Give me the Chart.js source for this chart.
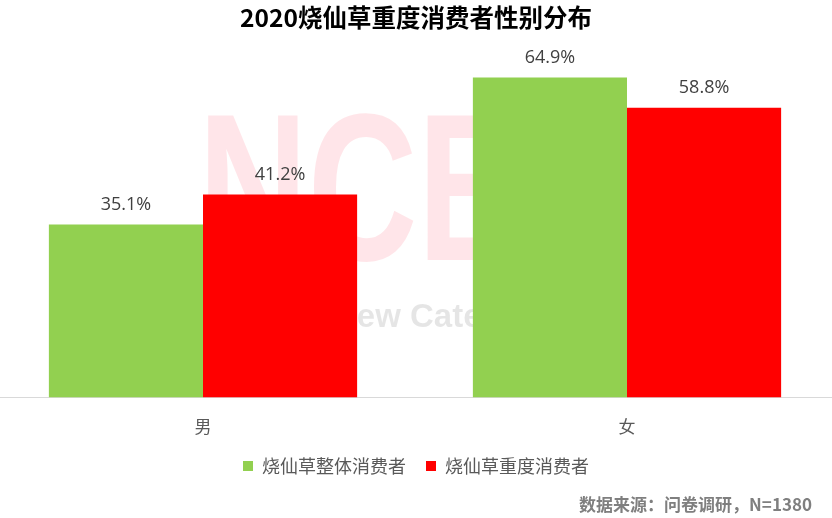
<!DOCTYPE html>
<html>
<head>
<meta charset="utf-8">
<script src="https://cdn.jsdelivr.net/npm/chart.js@4.4.1/dist/chart.umd.min.js"></script>
<style>
html,body{margin:0;padding:0;background:#fff;}
#wrap{width:832px;height:518px;position:relative;}
</style>
</head>
<body>
<div id="wrap"><canvas id="c" width="832" height="518"></canvas></div>
<script>
const categories = ["男", "女"];
const seriesNames = ["烧仙草整体消费者", "烧仙草重度消费者"];
const overall = [35.1, 64.9];
const heavy = [41.2, 58.8];
const titleText = "2020烧仙草重度消费者性别分布";
const sourceText = "数据来源：问卷调研，N=1380";

const CJK = "'Noto Sans CJK SC', 'Microsoft YaHei', sans-serif";

const widenX = {
  id: 'widenX',
  afterLayout(chart) {
    const s = chart.scales.x;
    s.left = -9;
    s.right = 839;
    s.width = 848;
    s.configure();
  }
};

const watermark = {
  id: 'watermark',
  beforeDatasetsDraw(chart) {
    const ctx = chart.ctx;
    ctx.save();
    ctx.fillStyle = 'rgba(255,0,40,0.10)';
    ctx.font = "bold 190px 'Liberation Sans', Arial, sans-serif";
    ctx.textBaseline = 'alphabetic';
    ctx.textAlign = 'left';
    ctx.save();
    ctx.translate(198, 260);
    ctx.scale(0.8, 1.1);
    ctx.fillText('NCB', 0, 0);
    ctx.restore();
    ctx.fillStyle = 'rgba(0,0,0,0.10)';
    ctx.font = "bold 33px 'Liberation Sans', Arial, sans-serif";
    ctx.fillText('New Catering', 333, 327);
    ctx.restore();
  }
};

const extras = {
  id: 'extras',
  afterDraw(chart) {
    const ctx = chart.ctx;
    ctx.save();
    ctx.font = "bold 17px " + CJK;
    ctx.fillStyle = '#7f7f7f';
    ctx.textAlign = 'right';
    ctx.textBaseline = 'middle';
    ctx.fillText(sourceText, 812, 505);
    ctx.font = "18px 'Open Sans', " + CJK;
    ctx.fillStyle = '#404040';
    ctx.textAlign = 'center';
    ctx.textBaseline = 'middle';
    chart.data.datasets.forEach((ds, i) => {
      const meta = chart.getDatasetMeta(i);
      meta.data.forEach((bar, j) => {
        ctx.fillText(ds.data[j].toFixed(1) + '%', bar.x, bar.y - 20);
      });
    });
    ctx.restore();
  }
};

new Chart(document.getElementById('c'), {
  type: 'bar',
  data: {
    labels: categories,
    datasets: [
      { label: seriesNames[0], data: overall, backgroundColor: '#92D050', borderWidth: 0 },
      { label: seriesNames[1], data: heavy, backgroundColor: '#FF0000', borderWidth: 0 }
    ]
  },
  options: {
    responsive: false,
    animation: false,
    devicePixelRatio: 1,
    layout: { padding: { left: 0, right: 0, top: 0, bottom: 33 } },
    datasets: { bar: { categoryPercentage: 0.727, barPercentage: 1.0 } },
    scales: {
      x: {
        grid: { display: false, drawTicks: false },
        border: { display: true, color: '#d9d9d9', width: 1 },
        ticks: { color: '#595959', font: { size: 17, family: CJK }, padding: 19 },
        afterFit(scale) { scale.height = scale.height - 19; }
      },
      y: {
        display: false,
        min: 0,
        max: 70
      }
    },
    plugins: {
      title: {
        display: true,
        text: titleText,
        color: '#000000',
        font: { size: 24.5, weight: 'bold', family: CJK },
        padding: { top: 3, bottom: 20 }
      },
      legend: {
        position: 'bottom',
        labels: {
          color: '#595959',
          font: { size: 18, family: CJK },
          boxWidth: 10,
          boxHeight: 10,
          padding: 20
        }
      },
      tooltip: { enabled: false }
    }
  },
  plugins: [widenX, watermark, extras]
});
</script>
</body>
</html>
